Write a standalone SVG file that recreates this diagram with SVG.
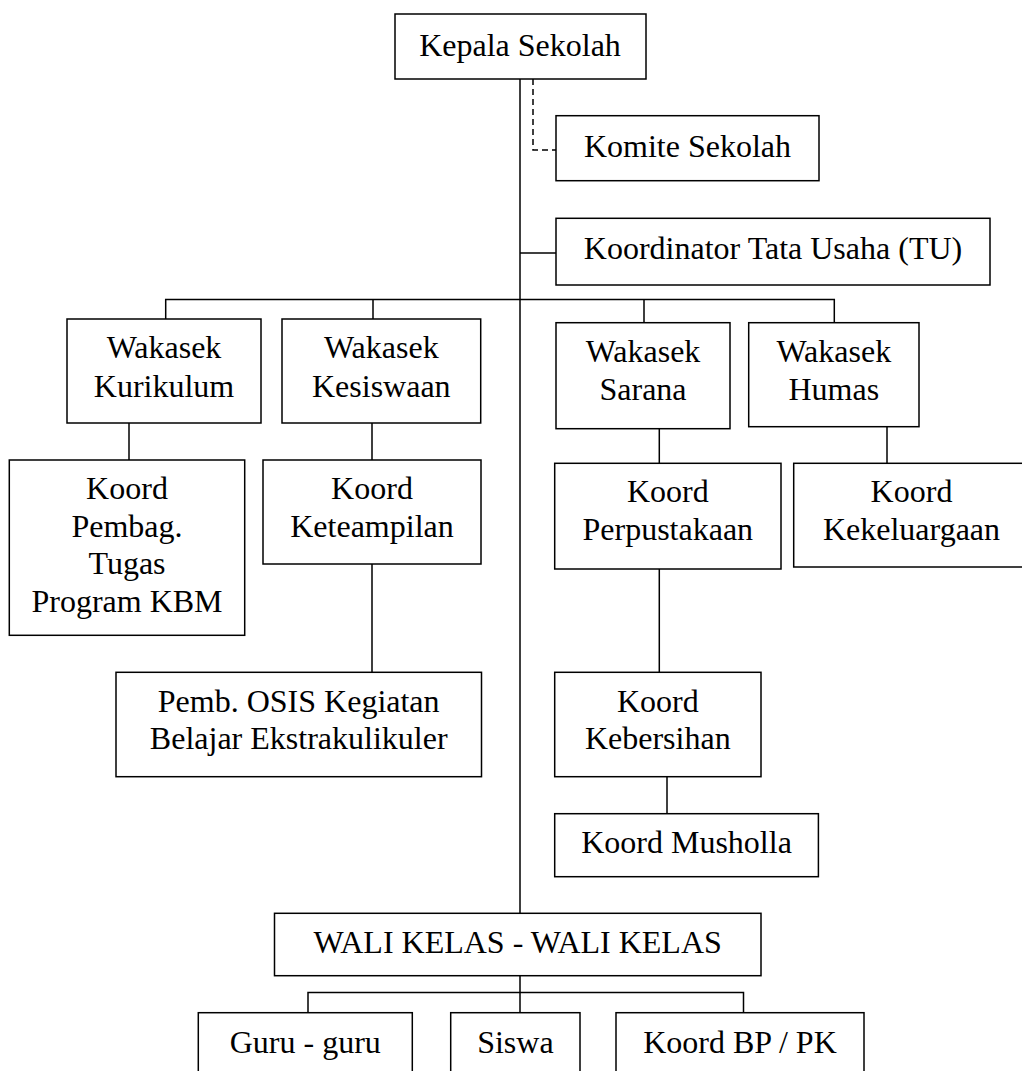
<svg xmlns="http://www.w3.org/2000/svg" width="1022" height="1071" viewBox="0 0 1022 1071">
<style>
rect.box{fill:#fff;stroke:#000;stroke-width:1.5}
text{font-family:"Liberation Serif","Times New Roman",serif;font-size:32px;fill:#000;text-anchor:middle}
.ln{fill:none;stroke:#000;stroke-width:1.5}
.dash{fill:none;stroke:#000;stroke-width:1.5;stroke-dasharray:6 4}
</style>
<rect width="1022" height="1071" fill="#fff"/>
<g id="connectors">
<path class="ln" d="M520 79V913.5"/>
<path class="dash" d="M533 79V150H556"/>
<path class="ln" d="M520 253H556"/>
<path class="ln" d="M165.7 319V299.5H834.3V322.7M373 299.5V319M644 299.5V322.7"/>
<path class="ln" d="M129 423V460"/>
<path class="ln" d="M372 423V460M372 564V672.3"/>
<path class="ln" d="M659.3 428.7V463.3M659.3 569V672.3"/>
<path class="ln" d="M887 426.7V463.3"/>
<path class="ln" d="M667 776.7V813.7"/>
<path class="ln" d="M520 975.7V1012.7M308 1012.7V992.5H743.5V1012.7"/>
</g>
<g id="kepala"><rect class="box" x="395" y="14" width="251" height="65"/><text x="520" y="56">Kepala Sekolah</text></g>
<g id="komite"><rect class="box" x="556" y="115.7" width="263" height="65"/><text x="687.5" y="156.7">Komite Sekolah</text></g>
<g id="tu"><rect class="box" x="556" y="218.3" width="434" height="66.7"/><text x="773" y="259.3">Koordinator Tata Usaha (TU)</text></g>
<g id="wk-kurikulum"><rect class="box" x="67" y="319" width="194" height="104"/><text x="164" y="358.3">Wakasek</text><text x="164" y="397.3">Kurikulum</text></g>
<g id="wk-kesiswaan"><rect class="box" x="282" y="319" width="198.7" height="104"/><text x="381.3" y="358.3">Wakasek</text><text x="381.3" y="397.3">Kesiswaan</text></g>
<g id="wk-sarana"><rect class="box" x="556" y="322.7" width="174" height="106"/><text x="643" y="361.7">Wakasek</text><text x="643" y="400">Sarana</text></g>
<g id="wk-humas"><rect class="box" x="748.7" y="322.7" width="170.3" height="104"/><text x="833.8" y="361.7">Wakasek</text><text x="833.8" y="400">Humas</text></g>
<g id="koord-pembag"><rect class="box" x="9.3" y="460" width="235.4" height="175.3"/><text x="127" y="499.3">Koord</text><text x="127" y="536.7">Pembag.</text><text x="127" y="573.5">Tugas</text><text x="127" y="611.7">Program KBM</text></g>
<g id="koord-keteampilan"><rect class="box" x="263" y="460" width="218" height="104"/><text x="372" y="499.3">Koord</text><text x="372" y="536.7">Keteampilan</text></g>
<g id="koord-perpustakaan"><rect class="box" x="554.7" y="463.3" width="226.3" height="105.7"/><text x="667.8" y="502.3">Koord</text><text x="667.8" y="540">Perpustakaan</text></g>
<g id="koord-kekeluargaan"><rect class="box" x="793.7" y="463.3" width="236" height="103.7"/><text x="911.5" y="502.3">Koord</text><text x="911.5" y="540">Kekeluargaan</text></g>
<g id="pemb-osis"><rect class="box" x="116" y="672.3" width="365.5" height="104.4"/><text x="298.7" y="711.7">Pemb. OSIS Kegiatan</text><text x="298.7" y="749.3">Belajar Ekstrakulikuler</text></g>
<g id="koord-kebersihan"><rect class="box" x="554.7" y="672.3" width="206.3" height="104.4"/><text x="657.8" y="711.7">Koord</text><text x="657.8" y="749.3">Kebersihan</text></g>
<g id="koord-musholla"><rect class="box" x="554.7" y="813.7" width="263.7" height="63"/><text x="686.5" y="853.3">Koord Musholla</text></g>
<g id="wali-kelas"><rect class="box" x="274.5" y="913.3" width="486.5" height="62.4"/><text x="517.7" y="953.3">WALI KELAS - WALI KELAS</text></g>
<g id="guru"><rect class="box" x="198.3" y="1012.7" width="214" height="80"/><text x="305.3" y="1053.3">Guru - guru</text></g>
<g id="siswa"><rect class="box" x="450.7" y="1012.7" width="129.3" height="80"/><text x="515.4" y="1053.3">Siswa</text></g>
<g id="koord-bp"><rect class="box" x="616" y="1012.7" width="248" height="80"/><text x="740" y="1053.3">Koord BP / PK</text></g>
</svg>
